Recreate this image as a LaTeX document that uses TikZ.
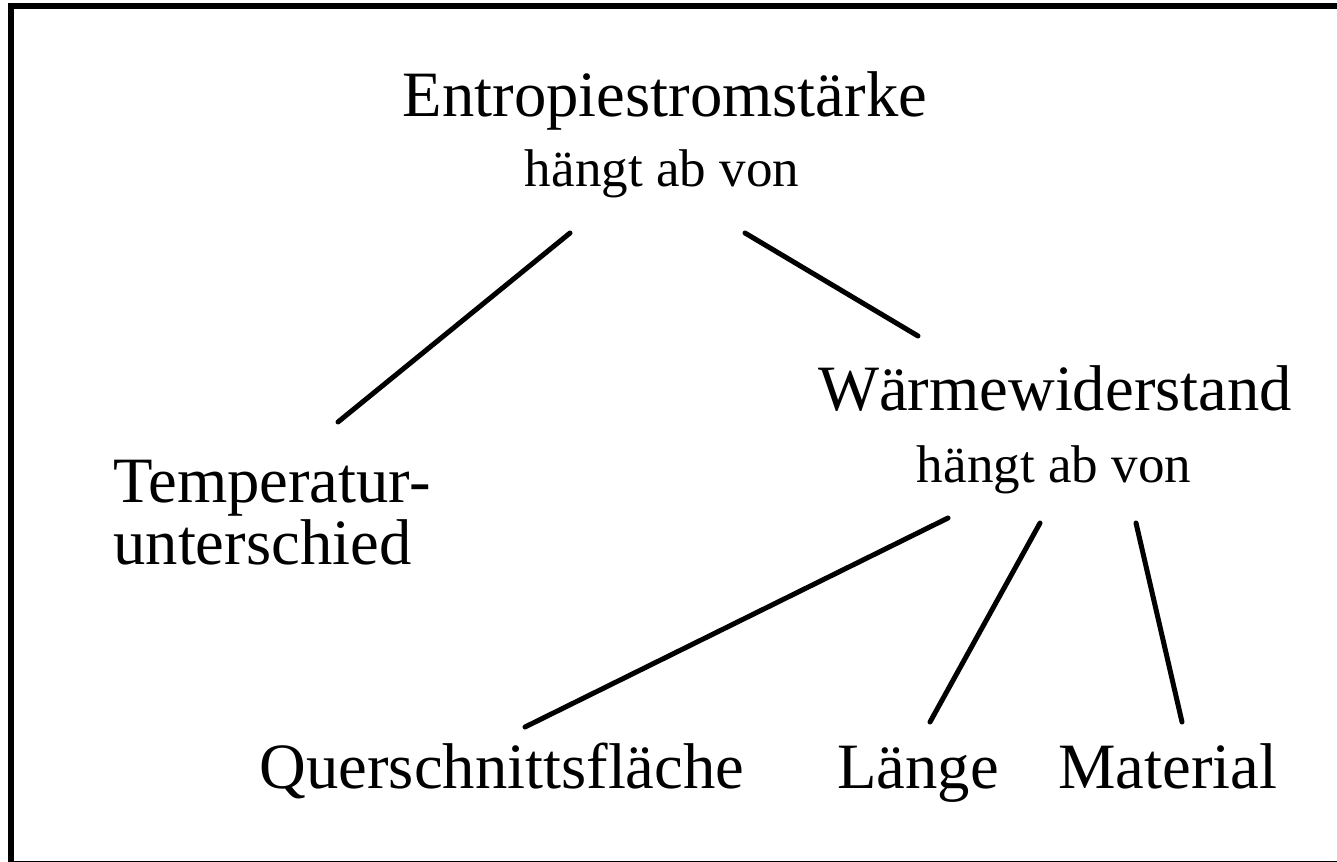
\documentclass[tikz,border=0pt]{standalone}
\usepackage{fontspec}
\setmainfont{Liberation Serif}
\newcommand{\bigtxt}{\fontsize{36.8pt}{35pt}\selectfont}
\newcommand{\smalltxt}{\fontsize{30.2pt}{36pt}\selectfont}

\begin{document}
\begin{tikzpicture}[x=0.02cm,y=-0.02cm,
  term/.style={font=\bigtxt, inner sep=0pt, anchor=base},
  note/.style={font=\smalltxt, inner sep=0pt, anchor=base},
  link/.style={line width=2.85pt, line cap=round},
  frame/.style={line width=3.4pt}]
\useasboundingbox (0,0) rectangle (1337,861);
% frame, cut off at right and bottom
\draw[frame] (1400,6) -- (11,6) -- (11,864) -- (1400,864);
% top level
\node[term] (ent) at (665,117) {Entropiestromstärke};
\node[note] (enthang) at (662,187) {hängt ab von};
% second level
\node[term, anchor=base west, align=left, font={\bigtxt\lineskiplimit=-40pt}] (temp) at (113,564) {Temperatur-\\unterschied};
\node[term] (wid) at (1055,410) {Wärmewiderstand};
\node[note] (widhang) at (1054,482) {hängt ab von};
% third level
\node[term] (quer) at (502,788) {Querschnittsfläche};
\node[term] (laenge) at (918,788) {Länge};
\node[term] (mat) at (1168,788) {Material};
% links
\draw[link] ([shift={(-92,46)}]enthang.base) -- ([shift={(225,-142)}]temp.base west);
\draw[link] ([shift={(83,46)}]enthang.base) -- ([shift={(-137,-74)}]wid.base);
\draw[link] ([shift={(-106,36)}]widhang.base) -- ([shift={(23,-61)}]quer.base);
\draw[link] ([shift={(-14,41)}]widhang.base) -- ([shift={(12,-66)}]laenge.base);
\draw[link] ([shift={(82,41)}]widhang.base) -- ([shift={(14,-66)}]mat.base);
\end{tikzpicture}
\end{document}
